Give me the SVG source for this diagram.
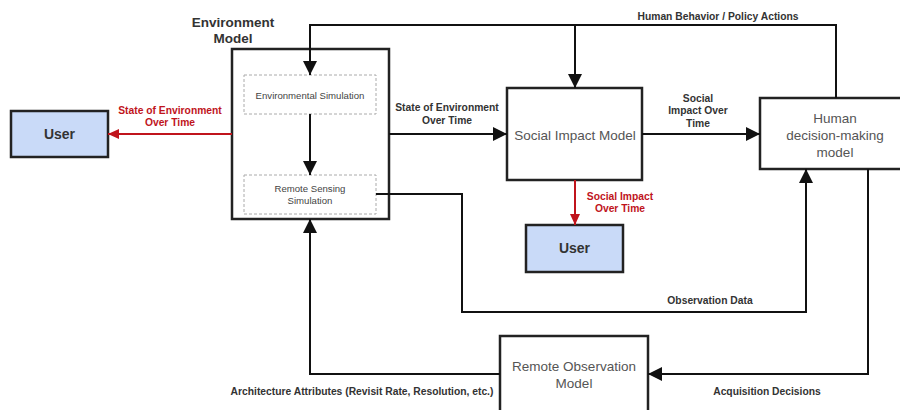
<svg xmlns="http://www.w3.org/2000/svg" width="900" height="410" viewBox="0 0 900 410">
<defs>
<style>
.box{fill:#fff;stroke:#222;stroke-width:2.5}
.user{fill:#c9daf8;stroke:#222;stroke-width:2.5}
.sim{fill:#fff;stroke:#aaa;stroke-width:1;stroke-dasharray:3,2}
.ln{fill:none;stroke:#111;stroke-width:2}
.rl{fill:none;stroke:#c0141c;stroke-width:2}
.t{font-family:"Liberation Sans",Arial,sans-serif;text-anchor:middle}
.big{font-size:13.5px;fill:#555}
.lbl{font-size:10.3px;font-weight:bold;fill:#333}
.rlbl{font-size:10.3px;font-weight:bold;fill:#c0141c}
.small{font-size:9.6px;fill:#444}
.title{font-size:13.5px;font-weight:bold;fill:#333}
.ut{font-size:14px;font-weight:bold;fill:#333}
</style>
<marker id="ah" markerUnits="userSpaceOnUse" markerWidth="14" markerHeight="14" refX="14" refY="7" orient="auto">
<path d="M0,0 L14,7 L0,14 Z" fill="#111"/>
</marker>
<marker id="ahr" markerUnits="userSpaceOnUse" markerWidth="11" markerHeight="10" refX="11" refY="5" orient="auto">
<path d="M0,0 L11,5 L0,10 Z" fill="#c0141c"/>
</marker>
</defs>
<rect width="900" height="410" fill="#fff"/>

<g id="env-model">
<text class="t title" x="233" y="27">Environment</text>
<text class="t title" x="233" y="43">Model</text>
<rect class="box" x="232" y="49" width="157" height="170"/>
</g>
<g id="env-sim">
<rect class="sim" x="244" y="75" width="132" height="39"/>
<text class="t small" x="310" y="98.5">Environmental Simulation</text>
</g>
<g id="rs-sim">
<rect class="sim" x="244" y="175" width="132" height="39"/>
<text class="t small" x="310" y="191.5">Remote Sensing</text>
<text class="t small" x="310" y="203.5">Simulation</text>
</g>
<g id="user1">
<rect class="user" x="11" y="111" width="97" height="46"/>
<text class="t ut" x="59.5" y="139">User</text>
</g>
<g id="social">
<rect class="box" x="507" y="88" width="135" height="92"/>
<text class="t big" x="575" y="139.5">Social Impact Model</text>
</g>
<g id="user2">
<rect class="user" x="526" y="225" width="97" height="47"/>
<text class="t ut" x="574.5" y="253">User</text>
</g>
<g id="human">
<rect class="box" x="760" y="98" width="152" height="71"/>
<text class="t big" x="835" y="122.5">Human</text>
<text class="t big" x="835" y="139.5">decision-making</text>
<text class="t big" x="835" y="156.5">model</text>
</g>
<g id="remote-obs">
<rect class="box" x="500" y="336" width="148" height="90"/>
<text class="t big" x="574" y="370.5">Remote Observation</text>
<text class="t big" x="574" y="387.5">Model</text>
</g>

<g id="connectors">
<path class="ln" d="M836,98 V25 H310 V75" marker-end="url(#ah)"/>
<path class="ln" d="M575,25 V88" marker-end="url(#ah)"/>
<path class="ln" d="M310,114 V175" marker-end="url(#ah)"/>
<path class="ln" d="M389,134 H507" marker-end="url(#ah)"/>
<path class="ln" d="M642,134 H760" marker-end="url(#ah)"/>
<path class="rl" d="M232,134 H108" marker-end="url(#ahr)"/>
<path class="rl" d="M575,180 V225" marker-end="url(#ahr)"/>
<path class="ln" d="M376,194 H462 V312 H806 V169" marker-end="url(#ah)"/>
<path class="ln" d="M868,169 V374 H648" marker-end="url(#ah)"/>
<path class="ln" d="M500,374 H310 V219" marker-end="url(#ah)"/>
</g>

<g id="labels">
<text class="t lbl" x="718" y="19.5">Human Behavior / Policy Actions</text>
<text class="t lbl" x="447" y="110.5">State of Environment</text>
<text class="t lbl" x="447" y="123.5">Over Time</text>
<text class="t lbl" x="698" y="101.5">Social</text>
<text class="t lbl" x="698" y="113.5">Impact Over</text>
<text class="t lbl" x="698" y="126.5">Time</text>
<text class="t rlbl" x="170" y="113.5">State of Environment</text>
<text class="t rlbl" x="170" y="125.5">Over Time</text>
<text class="t rlbl" x="620" y="199.5">Social Impact</text>
<text class="t rlbl" x="620" y="211.5">Over Time</text>
<text class="t lbl" x="710" y="303.5">Observation Data</text>
<text class="t lbl" x="767" y="394.5">Acquisition Decisions</text>
<text class="t lbl" x="362" y="394.5">Architecture Attributes (Revisit Rate, Resolution, etc.)</text>
</g>
</svg>
